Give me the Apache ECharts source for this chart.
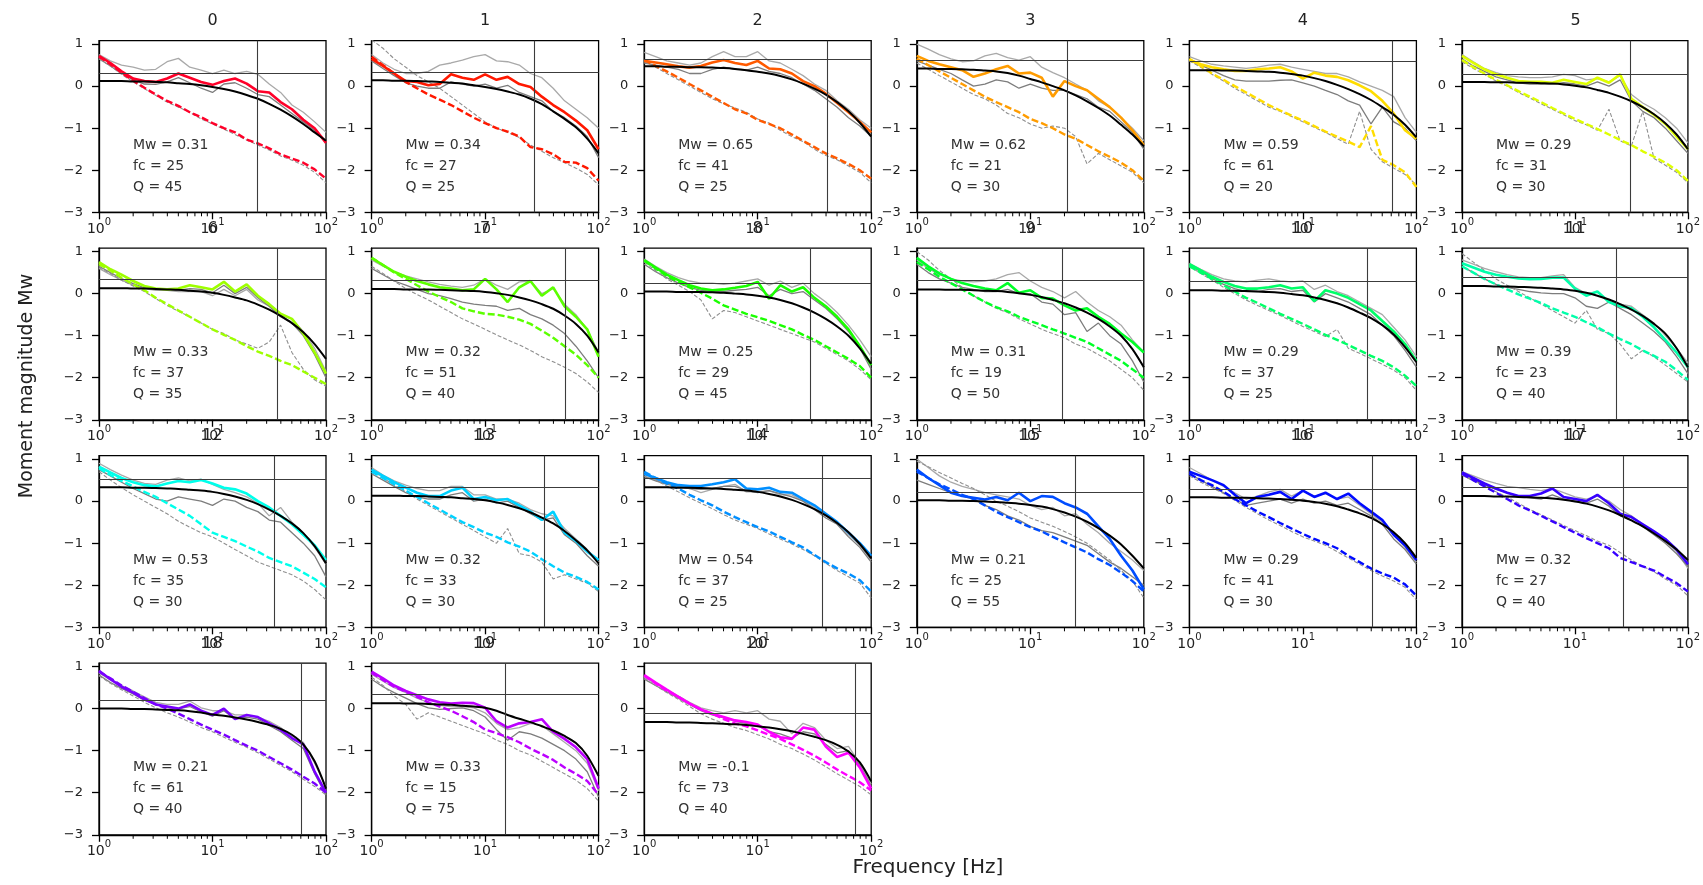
<!DOCTYPE html>
<html><head><meta charset="utf-8">
<script src="https://cdn.jsdelivr.net/npm/echarts@6/dist/echarts.min.js"></script>
<style>html,body{margin:0;padding:0;background:#fff}#c{width:1703px;height:885px}</style>
</head><body><div id="c"></div>
<script>
// frequency grid (Hz)
const FREQ = [1,1.26,1.58,2,2.51,3.16,3.98,5.01,6.31,7.94,10,12.6,15.8,20,25.1,31.6,39.8,50.1,63.1,79.4,100];
const X_TICKS = [1,10,100];
const Y_TICKS = [-3,-2,-1,0,1];
const MW = [0.31,0.34,0.65,0.62,0.59,0.29,0.33,0.32,0.25,0.31,0.29,0.39,0.53,0.32,0.54,0.21,0.29,0.32,0.21,0.33,-0.1];
const FC = [25,27,41,21,61,31,37,51,29,19,37,23,35,33,37,25,41,27,61,15,73];
const QF = [45,25,25,30,20,30,35,40,45,50,25,40,30,30,25,55,30,40,40,75,40];

const SIG = [
[0.72,0.55,0.35,0.18,0.12,0.1,0.18,0.3,0.2,0.1,0.03,0.12,0.18,0.06,-0.12,-0.15,-0.38,-0.55,-0.8,-1.0,-1.35],
[0.65,0.48,0.3,0.12,0.1,0.02,0.05,0.28,0.2,0.15,0.28,0.15,0.22,0.05,-0.02,-0.25,-0.45,-0.62,-0.82,-1.05,-1.5],
[0.6,0.56,0.52,0.47,0.44,0.48,0.56,0.62,0.55,0.5,0.6,0.42,0.4,0.3,0.12,0.0,-0.18,-0.4,-0.62,-0.85,-1.1],
[0.72,0.6,0.52,0.45,0.38,0.22,0.3,0.4,0.48,0.3,0.32,0.2,-0.25,0.12,0.0,-0.1,-0.3,-0.5,-0.75,-1.05,-1.4],
[0.62,0.52,0.45,0.4,0.36,0.36,0.4,0.42,0.45,0.35,0.18,0.32,0.25,0.22,0.14,0.02,-0.12,-0.35,-0.65,-1.05,-1.25],
[0.72,0.55,0.4,0.28,0.2,0.12,0.1,0.1,0.08,0.15,0.1,0.05,0.2,0.08,0.28,-0.3,-0.5,-0.68,-0.9,-1.2,-1.5],
[0.75,0.58,0.45,0.3,0.18,0.12,0.1,0.12,0.2,0.15,0.1,0.28,0.05,0.22,-0.05,-0.25,-0.48,-0.6,-0.95,-1.4,-1.9],
[0.85,0.68,0.52,0.4,0.3,0.22,0.15,0.12,0.08,0.1,0.35,0.1,-0.2,0.15,0.3,-0.05,0.15,-0.3,-0.55,-0.85,-1.5],
[0.8,0.62,0.45,0.32,0.2,0.12,0.08,0.1,0.14,0.18,0.28,-0.12,0.2,0.05,0.15,-0.1,-0.3,-0.55,-0.85,-1.25,-1.7],
[0.85,0.65,0.48,0.35,0.25,0.18,0.12,0.08,0.25,0.02,0.08,-0.1,-0.12,-0.28,-0.4,-0.35,-0.55,-0.72,-0.95,-1.15,-1.4],
[0.7,0.55,0.4,0.28,0.18,0.12,0.12,0.15,0.2,0.12,0.15,-0.18,0.08,0.0,-0.1,-0.25,-0.4,-0.65,-0.9,-1.2,-1.6],
[0.72,0.62,0.52,0.45,0.4,0.36,0.34,0.35,0.38,0.38,0.12,-0.05,0.05,-0.2,-0.3,-0.35,-0.55,-0.8,-1.1,-1.4,-1.75],
[0.82,0.68,0.55,0.45,0.38,0.35,0.42,0.48,0.45,0.5,0.42,0.32,0.28,0.18,0.0,-0.15,-0.35,-0.55,-0.8,-1.05,-1.4],
[0.75,0.6,0.45,0.32,0.2,0.12,0.12,0.25,0.32,0.05,0.1,0.02,0.05,-0.1,-0.25,-0.45,-0.25,-0.75,-0.95,-1.2,-1.4],
[0.65,0.55,0.45,0.38,0.36,0.36,0.4,0.45,0.52,0.3,0.28,0.32,0.22,0.2,0.05,-0.1,-0.3,-0.5,-0.75,-1.0,-1.3],
[0.75,0.55,0.38,0.2,0.12,0.08,0.04,0.1,0.02,0.2,0.0,0.12,0.1,-0.05,-0.15,-0.3,-0.6,-0.9,-1.3,-1.65,-2.1],
[0.7,0.6,0.5,0.38,0.15,-0.05,0.1,0.15,0.22,0.05,0.25,0.1,0.2,0.05,0.18,-0.05,-0.25,-0.45,-0.8,-1.05,-1.4],
[0.68,0.55,0.42,0.3,0.2,0.12,0.12,0.18,0.3,0.1,0.05,0.0,0.15,-0.05,-0.3,-0.38,-0.55,-0.72,-0.9,-1.15,-1.5],
[0.9,0.7,0.52,0.38,0.22,0.1,0.05,0.0,0.1,-0.05,-0.15,0.0,-0.25,-0.15,-0.2,-0.35,-0.5,-0.7,-0.85,-1.5,-2.0],
[0.88,0.72,0.55,0.42,0.32,0.22,0.15,0.12,0.14,0.13,0.02,-0.3,-0.45,-0.35,-0.32,-0.25,-0.55,-0.72,-0.92,-1.2,-1.9],
[0.8,0.62,0.45,0.28,0.12,-0.02,-0.12,-0.2,-0.28,-0.32,-0.38,-0.55,-0.68,-0.72,-0.45,-0.5,-0.9,-1.15,-1.05,-1.4,-1.9]
];
const NOI = [
[0.7,0.52,0.32,0.13,-0.04,-0.2,-0.35,-0.47,-0.62,-0.74,-0.88,-1.0,-1.1,-1.27,-1.36,-1.48,-1.62,-1.72,-1.82,-1.98,-2.2],
[0.7,0.5,0.3,0.1,-0.05,-0.2,-0.32,-0.45,-0.6,-0.75,-0.88,-1.0,-1.08,-1.2,-1.45,-1.5,-1.62,-1.8,-1.82,-1.95,-2.25],
[0.62,0.48,0.35,0.2,0.05,-0.1,-0.25,-0.4,-0.55,-0.65,-0.8,-0.9,-1.0,-1.15,-1.3,-1.45,-1.6,-1.72,-1.85,-2.0,-2.2],
[0.65,0.5,0.35,0.2,0.05,-0.1,-0.25,-0.38,-0.5,-0.62,-0.78,-0.88,-1.0,-1.15,-1.25,-1.4,-1.55,-1.68,-1.82,-2.0,-2.25],
[0.65,0.48,0.3,0.15,0.0,-0.15,-0.3,-0.45,-0.58,-0.7,-0.82,-0.95,-1.08,-1.2,-1.32,-1.45,-0.95,-1.75,-1.88,-2.05,-2.4],
[0.62,0.45,0.3,0.15,0.02,-0.12,-0.25,-0.38,-0.52,-0.65,-0.78,-0.9,-1.02,-1.15,-1.28,-1.4,-1.55,-1.68,-1.82,-2.0,-2.25],
[0.7,0.55,0.38,0.22,0.08,-0.1,-0.25,-0.4,-0.55,-0.7,-0.85,-0.98,-1.1,-1.25,-1.38,-1.48,-1.6,-1.7,-1.85,-2.0,-2.15],
[0.85,0.68,0.5,0.35,0.2,0.05,-0.08,-0.2,-0.35,-0.42,-0.48,-0.5,-0.55,-0.62,-0.72,-0.88,-1.05,-1.25,-1.45,-1.7,-2.0],
[0.78,0.6,0.42,0.28,0.15,0.02,-0.12,-0.28,-0.38,-0.48,-0.56,-0.65,-0.75,-0.85,-0.98,-1.1,-1.25,-1.4,-1.55,-1.72,-2.0],
[0.75,0.58,0.4,0.25,0.1,-0.05,-0.2,-0.32,-0.42,-0.55,-0.65,-0.75,-0.85,-0.95,-1.05,-1.15,-1.3,-1.45,-1.6,-1.8,-2.0],
[0.65,0.5,0.35,0.2,0.05,-0.1,-0.22,-0.35,-0.48,-0.6,-0.72,-0.85,-0.98,-1.1,-1.22,-1.35,-1.48,-1.6,-1.75,-1.95,-2.2],
[0.65,0.5,0.35,0.22,0.1,-0.02,-0.12,-0.22,-0.35,-0.45,-0.55,-0.68,-0.8,-0.95,-1.08,-1.2,-1.35,-1.48,-1.62,-1.82,-2.05],
[0.78,0.62,0.48,0.35,0.22,0.1,-0.05,-0.2,-0.35,-0.55,-0.75,-0.85,-0.95,-1.08,-1.2,-1.35,-1.45,-1.55,-1.7,-1.85,-2.05],
[0.7,0.55,0.4,0.25,0.1,-0.05,-0.2,-0.35,-0.5,-0.62,-0.75,-0.85,-0.98,-1.08,-1.2,-1.38,-1.55,-1.7,-1.8,-1.92,-2.1],
[0.7,0.55,0.42,0.3,0.15,0.02,-0.1,-0.25,-0.38,-0.5,-0.62,-0.72,-0.85,-0.98,-1.1,-1.28,-1.45,-1.6,-1.72,-1.88,-2.15],
[0.7,0.55,0.4,0.28,0.15,0.05,-0.1,-0.25,-0.38,-0.5,-0.62,-0.72,-0.85,-0.98,-1.1,-1.22,-1.38,-1.52,-1.7,-1.9,-2.15],
[0.65,0.5,0.38,0.22,0.05,-0.1,-0.25,-0.38,-0.52,-0.65,-0.78,-0.9,-1.0,-1.12,-1.3,-1.45,-1.6,-1.72,-1.82,-1.98,-2.25],
[0.65,0.5,0.35,0.2,0.05,-0.1,-0.22,-0.35,-0.48,-0.62,-0.75,-0.88,-1.0,-1.12,-1.35,-1.45,-1.55,-1.65,-1.8,-1.95,-2.15],
[0.88,0.72,0.55,0.4,0.25,0.1,0.0,-0.12,-0.25,-0.38,-0.5,-0.62,-0.75,-0.88,-1.0,-1.15,-1.3,-1.45,-1.62,-1.78,-2.0],
[0.85,0.68,0.52,0.4,0.28,0.15,0.05,-0.05,-0.18,-0.32,-0.5,-0.58,-0.68,-0.8,-0.95,-1.08,-1.22,-1.4,-1.55,-1.72,-2.05],
[0.78,0.6,0.42,0.28,0.12,-0.02,-0.12,-0.25,-0.35,-0.42,-0.52,-0.62,-0.72,-0.85,-0.98,-1.12,-1.28,-1.45,-1.6,-1.75,-1.95]
];
const G1 = [
[0.75,0.6,0.5,0.45,0.38,0.4,0.58,0.66,0.45,0.38,0.3,0.38,0.3,0.35,0.28,0.05,-0.15,-0.45,-0.62,-0.85,-1.1],
[0.75,0.55,0.4,0.3,0.3,0.35,0.5,0.55,0.62,0.7,0.75,0.6,0.58,0.5,0.3,0.2,-0.05,-0.35,-0.55,-0.75,-1.0],
[0.8,0.7,0.6,0.55,0.5,0.55,0.7,0.82,0.7,0.7,0.82,0.6,0.55,0.4,0.25,0.05,-0.1,-0.35,-0.55,-0.8,-1.0],
[1.0,0.88,0.75,0.65,0.58,0.6,0.72,0.78,0.68,0.62,0.7,0.45,0.32,0.2,0.05,-0.1,-0.35,-0.5,-0.75,-1.0,-1.3],
[0.7,0.6,0.52,0.48,0.45,0.42,0.45,0.5,0.52,0.45,0.4,0.35,0.3,0.3,0.22,0.1,0.0,-0.1,-0.25,-0.75,-1.1],
[0.75,0.58,0.42,0.32,0.25,0.22,0.2,0.2,0.22,0.28,0.25,0.15,0.18,0.1,0.25,-0.2,-0.4,-0.55,-0.75,-1.0,-1.35],
[0.6,0.45,0.32,0.2,0.12,0.08,0.08,0.05,0.05,0.05,-0.05,0.1,-0.05,0.1,-0.15,-0.3,-0.5,-0.6,-0.9,-1.3,-1.85],
[0.8,0.65,0.52,0.42,0.35,0.28,0.22,0.18,0.15,0.2,0.35,0.2,0.1,0.28,0.3,0.0,0.12,-0.25,-0.5,-0.85,-1.4],
[0.82,0.65,0.5,0.38,0.3,0.25,0.25,0.22,0.25,0.3,0.35,0.2,0.3,0.15,0.25,0.0,-0.2,-0.45,-0.75,-1.1,-1.5],
[0.8,0.6,0.45,0.35,0.3,0.28,0.3,0.35,0.45,0.5,0.3,0.15,0.05,-0.1,0.05,-0.2,-0.4,-0.55,-0.75,-1.1,-1.4],
[0.72,0.58,0.45,0.35,0.3,0.28,0.32,0.35,0.3,0.28,0.3,0.1,0.2,0.05,-0.05,-0.2,-0.35,-0.5,-0.8,-1.1,-1.5],
[0.8,0.7,0.6,0.52,0.45,0.4,0.38,0.38,0.42,0.45,0.15,0.0,0.05,-0.2,-0.25,-0.3,-0.5,-0.7,-1.0,-1.3,-1.65],
[0.9,0.75,0.62,0.5,0.42,0.4,0.5,0.55,0.48,0.52,0.4,0.28,0.2,0.1,-0.05,-0.35,-0.15,-0.5,-0.75,-1.1,-1.5],
[0.8,0.62,0.48,0.38,0.3,0.25,0.25,0.35,0.35,0.15,0.15,0.05,0.05,-0.05,-0.2,-0.3,-0.35,-0.65,-0.9,-1.15,-1.45],
[0.6,0.5,0.42,0.35,0.3,0.2,0.28,0.35,0.4,0.22,0.22,0.25,0.15,0.15,0.0,-0.15,-0.35,-0.55,-0.8,-1.05,-1.4],
[1.0,0.8,0.6,0.45,0.35,0.28,0.2,0.15,0.1,0.05,-0.1,-0.2,-0.15,-0.35,-0.3,-0.55,-0.75,-1.0,-1.2,-1.4,-1.65],
[0.8,0.65,0.5,0.35,0.2,0.05,0.12,0.22,0.28,0.12,0.25,0.12,0.18,0.05,0.1,-0.1,-0.3,-0.5,-0.8,-1.1,-1.45],
[0.7,0.6,0.5,0.42,0.35,0.32,0.28,0.25,0.3,0.2,0.1,0.05,0.12,0.0,-0.2,-0.35,-0.55,-0.75,-0.95,-1.2,-1.6],
[0.85,0.68,0.55,0.42,0.28,0.15,0.1,0.1,0.18,0.02,-0.05,-0.05,-0.15,-0.15,-0.2,-0.3,-0.45,-0.65,-0.8,-1.3,-1.85],
[0.82,0.65,0.5,0.38,0.25,0.15,0.08,0.05,0.05,0.02,-0.1,-0.35,-0.5,-0.45,-0.35,-0.4,-0.6,-0.8,-1.0,-1.3,-1.95],
[0.75,0.6,0.45,0.3,0.15,0.02,-0.05,-0.1,-0.05,-0.1,-0.05,-0.25,-0.3,-0.6,-0.35,-0.45,-0.75,-0.95,-0.9,-1.3,-1.8]
];
const G2 = [
[0.65,0.48,0.3,0.15,0.05,0.04,0.1,0.2,0.08,-0.05,-0.15,0.05,0.08,-0.05,-0.2,-0.25,-0.45,-0.65,-0.85,-1.05,-1.3],
[0.6,0.42,0.25,0.08,0.0,-0.05,-0.05,0.1,0.05,0.0,0.05,-0.05,0.02,-0.15,-0.25,-0.35,-0.6,-0.75,-0.95,-1.2,-1.7],
[0.55,0.5,0.45,0.4,0.3,0.3,0.4,0.45,0.4,0.38,0.45,0.35,0.3,0.2,0.05,-0.1,-0.3,-0.5,-0.75,-0.95,-1.2],
[0.6,0.5,0.4,0.3,0.15,0.0,0.05,0.15,0.1,-0.05,0.05,-0.05,-0.1,-0.1,-0.2,-0.3,-0.5,-0.6,-0.85,-1.1,-1.5],
[0.6,0.5,0.38,0.25,0.15,0.12,0.12,0.12,0.14,0.15,0.08,0.0,-0.1,-0.2,-0.35,-0.45,-0.9,-0.5,-0.85,-1.0,-1.3],
[0.65,0.48,0.35,0.22,0.15,0.08,0.05,0.05,0.05,0.08,0.05,0.0,0.1,0.0,0.15,-0.35,-0.6,-0.75,-1.0,-1.3,-1.6],
[0.65,0.5,0.36,0.24,0.14,0.1,0.1,0.08,0.12,0.1,0.02,0.2,0.0,0.15,-0.1,-0.3,-0.55,-0.7,-1.0,-1.45,-2.0],
[0.6,0.45,0.3,0.2,0.1,0.0,-0.05,-0.12,-0.2,-0.25,-0.28,-0.3,-0.4,-0.35,-0.5,-0.6,-0.75,-0.95,-1.25,-1.6,-2.0],
[0.7,0.52,0.38,0.25,0.15,0.08,0.05,0.05,0.08,0.1,0.15,-0.05,0.1,0.0,0.05,-0.15,-0.35,-0.6,-0.9,-1.3,-1.8],
[0.7,0.5,0.35,0.25,0.15,0.1,0.05,0.05,0.1,0.0,0.0,-0.2,-0.25,-0.5,-0.45,-0.9,-0.7,-1.0,-1.2,-1.6,-2.1],
[0.68,0.52,0.36,0.22,0.12,0.05,0.05,0.1,0.12,0.05,0.08,-0.2,0.0,-0.1,-0.2,-0.35,-0.5,-0.75,-1.0,-1.35,-1.75],
[0.65,0.5,0.35,0.22,0.15,0.1,0.05,0.02,0.0,0.0,-0.1,-0.3,-0.35,-0.2,-0.35,-0.5,-0.7,-0.9,-1.15,-1.5,-1.9],
[0.75,0.6,0.45,0.3,0.18,0.05,0.0,0.1,0.05,0.0,-0.1,0.05,0.0,-0.15,-0.25,-0.45,-0.5,-0.75,-1.0,-1.3,-1.8],
[0.65,0.5,0.35,0.2,0.1,0.05,0.05,0.15,0.2,0.0,0.05,-0.05,0.0,-0.15,-0.3,-0.45,-0.4,-0.8,-1.0,-1.3,-1.55],
[0.58,0.48,0.4,0.35,0.3,0.28,0.3,0.35,0.35,0.25,0.2,0.25,0.18,0.1,0.0,-0.2,-0.4,-0.55,-0.85,-1.1,-1.45],
[0.5,0.4,0.3,0.2,0.12,0.05,-0.1,-0.2,-0.35,-0.45,-0.6,-0.7,-0.75,-0.85,-0.95,-1.05,-1.25,-1.45,-1.6,-1.8,-2.0],
[0.65,0.5,0.35,0.2,0.05,-0.1,-0.05,0.0,0.05,-0.05,0.05,-0.05,0.0,-0.1,-0.05,-0.2,-0.35,-0.55,-0.9,-1.15,-1.5],
[0.62,0.5,0.38,0.28,0.2,0.12,0.08,0.05,0.15,0.05,0.0,-0.05,0.05,-0.12,-0.35,-0.45,-0.6,-0.8,-1.0,-1.25,-1.55],
[0.8,0.62,0.48,0.35,0.2,0.1,0.02,0.0,0.05,-0.08,-0.18,-0.05,-0.25,-0.2,-0.25,-0.4,-0.55,-0.75,-0.95,-1.55,-2.05],
[0.7,0.52,0.38,0.25,0.12,0.02,-0.02,0.0,0.02,-0.05,-0.2,-0.5,-0.75,-0.55,-0.6,-0.7,-0.85,-1.0,-1.2,-1.5,-2.1],
[0.7,0.55,0.4,0.25,0.1,-0.05,-0.15,-0.22,-0.3,-0.35,-0.4,-0.55,-0.6,-0.7,-0.55,-0.6,-0.85,-1.05,-1.0,-1.35,-1.85]
];
const GD = [
[0.65,0.48,0.28,0.1,-0.06,-0.22,-0.38,-0.5,-0.62,-0.78,-0.9,-1.02,-1.15,-1.28,-1.4,-1.52,-1.66,-1.76,-1.88,-2.05,-2.3],
[1.1,0.9,0.65,0.45,0.25,0.1,-0.05,-0.25,-0.45,-0.65,-0.85,-1.0,-1.1,-1.22,-1.4,-1.55,-1.7,-1.82,-1.95,-2.1,-2.35],
[0.58,0.45,0.3,0.15,0.0,-0.15,-0.3,-0.42,-0.52,-0.62,-0.78,-0.88,-1.05,-1.2,-1.32,-1.5,-1.65,-1.75,-1.9,-2.05,-2.3],
[0.55,0.4,0.25,0.1,-0.05,-0.2,-0.3,-0.45,-0.65,-0.75,-0.9,-1.0,-0.95,-1.0,-1.2,-1.85,-1.6,-1.75,-1.9,-2.05,-2.3],
[0.6,0.45,0.28,0.12,-0.05,-0.2,-0.35,-0.5,-0.6,-0.72,-0.85,-0.98,-1.1,-1.25,-1.38,-0.6,-1.5,-1.8,-1.95,-2.1,-2.35],
[0.58,0.42,0.28,0.12,0.0,-0.15,-0.28,-0.42,-0.55,-0.68,-0.82,-0.92,-1.05,-0.55,-1.3,-1.42,-0.6,-1.72,-1.88,-2.05,-2.3],
[0.62,0.48,0.32,0.18,0.05,-0.12,-0.28,-0.42,-0.55,-0.7,-0.85,-0.95,-1.1,-1.2,-1.3,-1.15,-0.75,-1.4,-1.8,-2.05,-2.2],
[0.65,0.48,0.3,0.12,-0.02,-0.15,-0.3,-0.45,-0.6,-0.72,-0.85,-0.98,-1.1,-1.22,-1.35,-1.5,-1.62,-1.75,-1.9,-2.1,-2.35],
[0.75,0.55,0.35,0.2,0.05,-0.15,-0.6,-0.4,-0.45,-0.55,-0.65,-0.75,-0.85,-0.95,-1.05,-1.15,-1.3,-1.45,-1.6,-1.8,-2.05],
[1.0,0.8,0.55,0.35,0.15,-0.05,-0.2,-0.35,-0.45,-0.6,-0.72,-0.85,-0.95,-1.05,-1.2,-1.3,-1.45,-1.6,-1.8,-2.0,-2.3],
[0.65,0.48,0.32,0.15,0.0,-0.15,-0.28,-0.4,-0.52,-0.65,-0.78,-0.9,-1.02,-0.85,-1.3,-1.42,-1.55,-1.68,-1.82,-2.0,-2.3],
[0.95,0.75,0.55,0.35,0.2,0.05,-0.1,-0.25,-0.4,-0.55,-0.7,-0.4,-0.85,-0.95,-1.2,-1.55,-1.35,-1.5,-1.7,-1.9,-2.1],
[0.7,0.5,0.32,0.15,0.0,-0.15,-0.3,-0.48,-0.62,-0.75,-0.85,-1.0,-1.15,-1.3,-1.45,-1.55,-1.65,-1.75,-1.9,-2.1,-2.35],
[0.75,0.55,0.38,0.22,0.05,-0.1,-0.25,-0.4,-0.55,-0.7,-0.85,-1.0,-0.65,-1.25,-1.3,-1.45,-1.85,-1.75,-1.85,-1.95,-2.15],
[0.65,0.5,0.36,0.22,0.08,-0.05,-0.18,-0.32,-0.45,-0.55,-0.65,-0.78,-0.9,-1.02,-1.15,-1.3,-1.48,-1.65,-1.8,-1.95,-2.3],
[0.95,0.82,0.68,0.55,0.42,0.3,0.15,0.0,-0.12,-0.25,-0.4,-0.5,-0.6,-0.72,-0.85,-1.0,-1.2,-1.4,-1.65,-1.9,-2.3],
[0.6,0.45,0.32,0.18,0.02,-0.15,-0.3,-0.45,-0.58,-0.72,-0.85,-0.95,-1.05,-1.2,-1.35,-1.5,-1.65,-1.78,-1.9,-2.05,-2.35],
[0.62,0.48,0.35,0.22,0.1,-0.05,-0.2,-0.32,-0.45,-0.58,-0.7,-0.82,-0.95,-1.05,-1.22,-1.4,-1.55,-1.68,-1.85,-2.0,-2.25],
[0.78,0.6,0.45,0.3,0.15,0.02,-0.1,-0.2,-0.32,-0.45,-0.55,-0.68,-0.8,-0.92,-1.05,-1.2,-1.35,-1.5,-1.68,-1.85,-2.05],
[0.75,0.55,0.3,0.1,-0.25,-0.1,-0.2,-0.3,-0.4,-0.5,-0.6,-0.75,-0.85,-1.0,-1.1,-1.25,-1.4,-1.55,-1.7,-1.9,-2.2],
[0.72,0.55,0.38,0.22,0.05,-0.12,-0.25,-0.35,-0.45,-0.52,-0.62,-0.72,-0.85,-0.95,-1.08,-1.22,-1.38,-1.55,-1.7,-1.85,-2.05]
];
const FIT = [
[0.12,0.12,0.12,0.11,0.11,0.1,0.09,0.07,0.05,0.02,-0.02,-0.07,-0.13,-0.21,-0.3,-0.42,-0.56,-0.72,-0.9,-1.1,-1.3],
[0.14,0.14,0.13,0.13,0.12,0.11,0.1,0.08,0.06,0.02,-0.02,-0.07,-0.13,-0.2,-0.3,-0.43,-0.6,-0.78,-0.98,-1.25,-1.6],
[0.47,0.47,0.46,0.46,0.45,0.45,0.44,0.43,0.41,0.38,0.34,0.3,0.24,0.16,0.06,-0.06,-0.2,-0.38,-0.6,-0.87,-1.2],
[0.42,0.42,0.41,0.41,0.4,0.39,0.37,0.35,0.31,0.25,0.17,0.09,0.0,-0.1,-0.22,-0.36,-0.52,-0.7,-0.92,-1.15,-1.43],
[0.38,0.38,0.38,0.37,0.37,0.36,0.35,0.34,0.32,0.29,0.25,0.19,0.12,0.03,-0.07,-0.19,-0.33,-0.5,-0.68,-0.92,-1.22],
[0.1,0.1,0.1,0.09,0.09,0.08,0.08,0.07,0.06,0.04,0.01,-0.03,-0.09,-0.16,-0.25,-0.36,-0.5,-0.67,-0.88,-1.15,-1.5],
[0.13,0.13,0.13,0.12,0.12,0.11,0.1,0.09,0.07,0.05,0.02,-0.03,-0.09,-0.16,-0.26,-0.38,-0.53,-0.7,-0.92,-1.2,-1.55],
[0.11,0.11,0.11,0.1,0.1,0.1,0.09,0.08,0.07,0.06,0.04,0.01,-0.03,-0.09,-0.16,-0.25,-0.36,-0.52,-0.72,-1.0,-1.4],
[0.05,0.05,0.05,0.04,0.04,0.04,0.03,0.02,0.0,-0.02,-0.05,-0.09,-0.15,-0.23,-0.33,-0.45,-0.6,-0.78,-1.0,-1.3,-1.67],
[0.1,0.1,0.1,0.09,0.09,0.08,0.07,0.06,0.04,0.01,-0.03,-0.08,-0.15,-0.23,-0.33,-0.45,-0.6,-0.78,-1.0,-1.32,-1.75],
[0.08,0.08,0.08,0.07,0.07,0.06,0.05,0.04,0.02,-0.01,-0.04,-0.09,-0.15,-0.23,-0.33,-0.45,-0.58,-0.75,-0.97,-1.27,-1.63],
[0.18,0.18,0.18,0.17,0.17,0.16,0.15,0.14,0.12,0.1,0.07,0.02,-0.05,-0.14,-0.25,-0.38,-0.53,-0.72,-0.95,-1.3,-1.75],
[0.33,0.33,0.33,0.32,0.32,0.31,0.3,0.29,0.27,0.25,0.22,0.17,0.11,0.03,-0.07,-0.2,-0.35,-0.53,-0.76,-1.07,-1.48],
[0.13,0.13,0.13,0.12,0.12,0.11,0.1,0.09,0.07,0.05,0.02,-0.03,-0.09,-0.17,-0.27,-0.39,-0.53,-0.71,-0.93,-1.17,-1.48],
[0.33,0.33,0.33,0.32,0.32,0.31,0.3,0.29,0.27,0.25,0.22,0.17,0.11,0.03,-0.07,-0.19,-0.34,-0.52,-0.74,-1.02,-1.36],
[0.02,0.02,0.02,0.01,0.01,0.0,-0.01,-0.02,-0.04,-0.06,-0.09,-0.13,-0.19,-0.27,-0.37,-0.49,-0.64,-0.82,-1.03,-1.3,-1.6],
[0.09,0.09,0.09,0.08,0.08,0.08,0.07,0.06,0.05,0.03,0.01,-0.02,-0.06,-0.12,-0.2,-0.29,-0.4,-0.55,-0.74,-1.0,-1.35],
[0.12,0.12,0.12,0.11,0.11,0.1,0.09,0.08,0.06,0.03,-0.01,-0.06,-0.13,-0.22,-0.33,-0.46,-0.6,-0.77,-0.95,-1.15,-1.4],
[0.0,0.0,0.0,-0.01,-0.01,-0.02,-0.03,-0.04,-0.06,-0.09,-0.14,-0.17,-0.21,-0.26,-0.32,-0.39,-0.48,-0.62,-0.85,-1.25,-1.9],
[0.13,0.13,0.13,0.12,0.12,0.11,0.1,0.09,0.07,0.05,0.02,-0.05,-0.15,-0.24,-0.32,-0.42,-0.52,-0.65,-0.82,-1.12,-1.6],
[-0.32,-0.32,-0.32,-0.33,-0.33,-0.34,-0.35,-0.36,-0.37,-0.39,-0.42,-0.45,-0.49,-0.54,-0.6,-0.67,-0.75,-0.86,-1.02,-1.28,-1.73]
];

// ---- styling / layout ----
const FONT = '"DejaVu Sans", sans-serif';
const CM = [[0,1,0,.16],[.03,1,0,0],[.215,1,1,0],[.4,0,1,0],[.586,0,1,1],[.77,0,0,1],[.954,1,0,1],[1,1,0,.75]];
function rainbow(t){
  for (let k=0;k<CM.length-1;k++){
    const a=CM[k], b=CM[k+1];
    if (t<=b[0]+1e-9){
      const u=(t-a[0])/(b[0]-a[0]);
      const c=[1,2,3].map(j=>Math.round(255*(a[j]+(b[j]-a[j])*u)));
      return 'rgb('+c.join(',')+')';
    }
  }
  return '#f0c';
}
const MINOR = [];
[1,10].forEach(d=>{for(let k=2;k<=9;k++) MINOR.push(k*d);});

const PL=99, PSTEP=272.6, PW=227, PT=40.7, RSTEP=207.5, PH=171.6;
const grid=[], xAxis=[], yAxis=[], series=[], graphic=[];
const mk = arr => FREQ.map((f,k)=>[f, arr[k]]);
const yfmt = v => (v<0 ? '\u2212'+Math.abs(v) : String(v));
const N = MW.length;

for (let i=0;i<N;i++){
  const r=Math.floor(i/6), c=i%6;
  const left=PL+c*PSTEP, top=PT+r*RSTEP;
  const col = rainbow(i/N);
  grid.push({left:left, top:top, width:PW, height:PH, show:true, borderColor:'#000', borderWidth:1.3, backgroundColor:'#fff', containLabel:false});
  xAxis.push({type:'log', logBase:10, min:1, max:100, gridIndex:i, position:'bottom',
    axisLine:{show:true, onZero:false, lineStyle:{color:'#000', width:1.3}},
    axisTick:{show:true, length:7, lineStyle:{color:'#000', width:1.3}},
    minorTick:{show:false}, splitLine:{show:false},
    axisLabel:{show:true, margin:5, showMinLabel:true, showMaxLabel:true, color:'#222',
      formatter: v => '{b|10}{s|' + Math.round(Math.log10(v)) + '}',
      rich:{ b:{fontSize:14, fontFamily:FONT, color:'#222', lineHeight:19, verticalAlign:'bottom'},
             s:{fontSize:10, fontFamily:FONT, color:'#222', lineHeight:10, verticalAlign:'top'} } }
  });
  yAxis.push({type:'value', min:-3, max:1.08, gridIndex:i, position:'left',
    axisLine:{show:true, onZero:false, lineStyle:{color:'#000', width:1.3}},
    axisTick:{show:true, length:7, customValues:Y_TICKS, lineStyle:{color:'#000', width:1.3}},
    splitLine:{show:false},
    axisLabel:{show:true, customValues:Y_TICKS, margin:16, fontSize:13, fontFamily:FONT, color:'#222', formatter:yfmt}
  });
  const base = {type:'line', xAxisIndex:i, yAxisIndex:i, symbol:'none', silent:true, animation:false, clip:true};
  series.push(Object.assign({}, base, {data:mk(G1[i]), z:2, lineStyle:{color:'#a9a9a9', width:1.3}}));
  series.push(Object.assign({}, base, {data:mk(G2[i]), z:2, lineStyle:{color:'#7d7d7d', width:1.3}}));
  series.push(Object.assign({}, base, {data:mk(GD[i]), z:2, lineStyle:{color:'#8f8f8f', width:1.1, type:[4,2]}}));
  series.push(Object.assign({}, base, {data:mk(NOI[i]), z:3, lineStyle:{color:col, width:2.4, type:[7,3]}}));
  series.push(Object.assign({}, base, {data:mk(SIG[i]), z:3, lineStyle:{color:col, width:2.6}}));
  series.push(Object.assign({}, base, {data:mk(FIT[i]), z:4, smooth:0.3, lineStyle:{color:'#000', width:2},
    markLine:{symbol:'none', silent:true, animation:false, label:{show:false},
      lineStyle:{color:'#3c3c3c', width:1.1, type:'solid'},
      data:[{xAxis:FC[i]},{yAxis:MW[i]}]}}));
  series.push({type:'custom', xAxisIndex:i, yAxisIndex:i, silent:true, animation:false, clip:false, z:6,
    data: MINOR.map(f=>[f,-3]),
    renderItem:(p,api)=>{const pt=api.coord([api.value(0), api.value(1)]);
      return {type:'line', shape:{x1:pt[0], y1:pt[1], x2:pt[0], y2:pt[1]+4}, style:{stroke:'#000', lineWidth:1}};}
  });
  graphic.push({type:'text', x:left+PW/2, y:top-19.7, silent:true,
    style:{text:String(i), fill:'#222', font:'16px '+FONT, align:'center', verticalAlign:'middle', textAlign:'center', textVerticalAlign:'middle'}});
  const ann = ['Mw = '+MW[i], 'fc = '+FC[i], 'Q = '+QF[i]];
  const offs = [104.4, 125.5, 146.6];
  ann.forEach((t,k)=>graphic.push({type:'text', x:left+34, y:top+offs[k], silent:true, z:10,
    style:{text:t, fill:'#333', font:'14px '+FONT, align:'left', verticalAlign:'middle', textAlign:'left', textVerticalAlign:'middle'}}));
}
graphic.push({type:'text', x:928, y:868, silent:true,
  style:{text:'Frequency [Hz]', fill:'#222', font:'20px '+FONT, align:'center', verticalAlign:'middle', textAlign:'center', textVerticalAlign:'middle'}});
graphic.push({type:'text', x:27.5, y:386, rotation:Math.PI/2, silent:true,
  style:{text:'Moment magnitude Mw', fill:'#222', font:'19px '+FONT, align:'center', verticalAlign:'middle', textAlign:'center', textVerticalAlign:'middle'}});

const chart = echarts.init(document.getElementById('c'), null, {renderer:'canvas'});
chart.setOption({animation:false, backgroundColor:'#fff', grid, xAxis, yAxis, series, graphic});
</script></body></html>
